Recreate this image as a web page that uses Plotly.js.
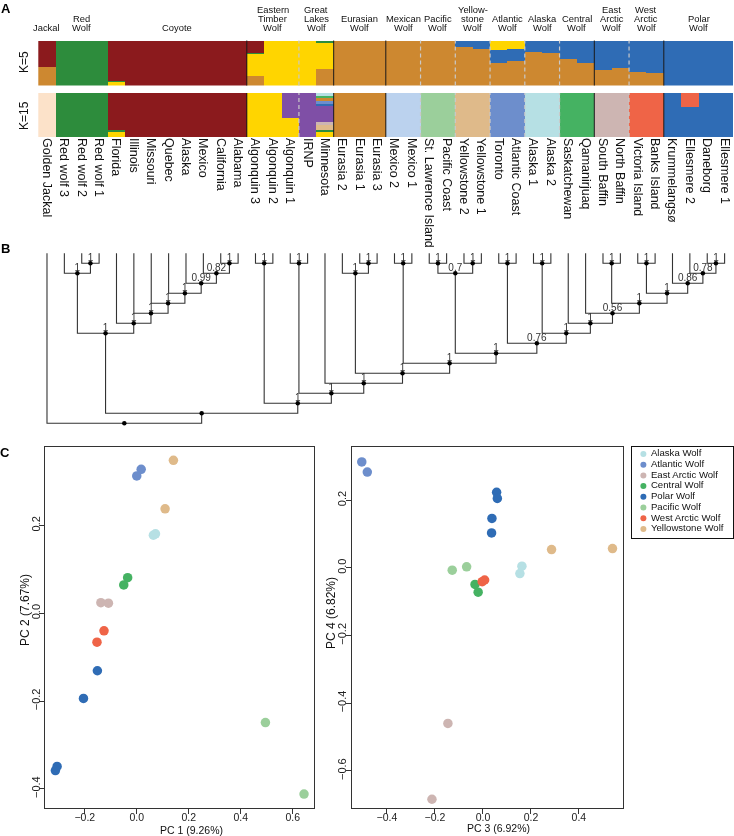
<!DOCTYPE html>
<html><head><meta charset="utf-8">
<script src="https://cdn.plot.ly/plotly-3.0.1.min.js"></script>
<style>html,body{margin:0;padding:0;background:#fff}#chart{width:734px;height:836px;will-change:transform}</style>
</head><body><div id="chart"></div>
<script>
// ================= DATA =================
const samples = ['Golden Jackal','Red wolf 3','Red wolf 2','Red wolf 1','Florida','Illinois','Missouri','Quebec','Alaska','Mexico','California','Alabama','Algonquin 3','Algonquin 2','Algonquin 1','IRNP','Minnesota','Eurasia 2','Eurasia 1','Eurasia 3','Mexico 2','Mexico 1','St. Lawrence Island','Pacific Coast','Yellowstone 2','Yellowstone 1','Toronto','Atlantic Coast','Alaska 1','Alaska 2','Saskatchewan','Qamanirjuaq','South Baffin','North Baffin','Victoria Island','Banks Island','Krummelangsø','Ellesmere 2','Daneborg','Ellesmere 1'];
const groups = ['Jackal','Red<br>Wolf','Coyote','Eastern<br>Timber<br>Wolf','Great<br>Lakes<br>Wolf','Eurasian<br>Wolf','Mexican<br>Wolf','Pacific<br>Wolf','Yellow-<br>stone<br>Wolf','Atlantic<br>Wolf','Alaska<br>Wolf','Central<br>Wolf','East<br>Arctic<br>Wolf','West<br>Arctic<br>Wolf','Polar<br>Wolf'];
const groupSizes = [1,3,8,3,2,3,2,2,2,2,2,2,2,2,4];

// K=5 ancestry proportions (one array per cluster, 40 samples)
const k5Ochre  = [0.42,0,0,0, 0,0,0,0,0,0,0,0, 0.22,0,0, 0,0.36, 1,1,1, 1,1, 1,1, 0.85,0.81, 0.51,0.54, 0.75,0.73, 0.58,0.50, 0.35,0.40, 0.31,0.27, 0,0,0,0];
const k5Blue   = [0,0,0,0, 0,0,0,0,0,0,0,0, 0,0,0, 0,0, 0,0,0, 0,0, 0,0, 0.15,0.19, 0.29,0.27, 0.25,0.27, 0.42,0.50, 0.65,0.60, 0.69,0.73, 1,1,1,1];
const k5Yellow = [0,0,0,0, 0.08,0,0,0,0,0,0,0, 0.48,1,1, 1,0.59, 0,0,0, 0,0, 0,0, 0,0, 0.20,0.19, 0,0, 0,0, 0,0, 0,0, 0,0,0,0];
const k5Green  = [0,1,1,1, 0.03,0,0,0,0,0,0,0, 0.03,0,0, 0,0.05, 0,0,0, 0,0, 0,0, 0,0, 0,0, 0,0, 0,0, 0,0, 0,0, 0,0,0,0];
const k5Red    = [0.58,0,0,0, 0.89,1,1,1,1,1,1,1, 0.27,0,0, 0,0, 0,0,0, 0,0, 0,0, 0,0, 0,0, 0,0, 0,0, 0,0, 0,0, 0,0,0,0];

// K=15 ancestry proportions
const k15Yellow   = [0,0,0,0, 0.11,0,0,0,0,0,0,0, 1,1,0.44, 0,0.12, 0,0,0, 0,0, 0,0, 0,0, 0,0, 0,0, 0,0, 0,0, 0,0, 0,0,0,0];
const k15RedWolf  = [0,1,1,1, 0.04,0,0,0,0,0,0,0, 0,0,0, 0,0.04, 0,0,0, 0,0, 0,0, 0,0, 0,0, 0,0, 0,0, 0,0, 0,0, 0,0,0,0];
const k15Coyote   = [0,0,0,0, 0.85,1,1,1,1,1,1,1, 0,0,0, 0,0, 0,0,0, 0,0, 0,0, 0,0, 0,0, 0,0, 0,0, 0,0, 0,0, 0,0,0,0];
const k15Jackal   = [1,0,0,0, 0,0,0,0,0,0,0,0, 0,0,0, 0,0, 0,0,0, 0,0, 0,0, 0,0, 0,0, 0,0, 0,0, 0,0, 0,0, 0,0,0,0];
const k15Tan      = [0,0,0,0, 0,0,0,0,0,0,0,0, 0,0,0, 0,0.12, 0,0,0, 0,0, 0,0, 1,1, 0,0, 0,0, 0,0, 0,0, 0,0, 0,0,0,0];
const k15Pink     = [0,0,0,0, 0,0,0,0,0,0,0,0, 0,0,0, 0,0.06, 0,0,0, 0,0, 0,0, 0,0, 0,0, 0,0, 0,0, 1,1, 0,0, 0,0,0,0];
const k15Purple   = [0,0,0,0, 0,0,0,0,0,0,0,0, 0,0,0.56, 1,0.36, 0,0,0, 0,0, 0,0, 0,0, 0,0, 0,0, 0,0, 0,0, 0,0, 0,0,0,0];
const k15Polar    = [0,0,0,0, 0,0,0,0,0,0,0,0, 0,0,0, 0,0.06, 0,0,0, 0,0, 0,0, 0,0, 0,0, 0,0, 0,0, 0,0, 0,0, 1,0.68,1,1];
const k15Coral    = [0,0,0,0, 0,0,0,0,0,0,0,0, 0,0,0, 0,0, 0,0,0, 0,0, 0,0, 0,0, 0,0, 0,0, 0,0, 0,0, 1,1, 0,0.32,0,0];
const k15Atlantic = [0,0,0,0, 0,0,0,0,0,0,0,0, 0,0,0, 0,0.06, 0,0,0, 0,0, 0,0, 0,0, 1,1, 0,0, 0,0, 0,0, 0,0, 0,0,0,0];
const k15Ochre    = [0,0,0,0, 0,0,0,0,0,0,0,0, 0,0,0, 0,0.06, 1,1,1, 0,0, 0,0, 0,0, 0,0, 0,0, 0,0, 0,0, 0,0, 0,0,0,0];
const k15Central  = [0,0,0,0, 0,0,0,0,0,0,0,0, 0,0,0, 0,0.05, 0,0,0, 0,0, 0,0, 0,0, 0,0, 0,0, 1,1, 0,0, 0,0, 0,0,0,0];
const k15Alaska   = [0,0,0,0, 0,0,0,0,0,0,0,0, 0,0,0, 0,0.07, 0,0,0, 0,0, 0,0, 0,0, 0,0, 1,1, 0,0, 0,0, 0,0, 0,0,0,0];
const k15Mexican  = [0,0,0,0, 0,0,0,0,0,0,0,0, 0,0,0, 0,0, 0,0,0, 1,1, 0,0, 0,0, 0,0, 0,0, 0,0, 0,0, 0,0, 0,0,0,0];
const k15Pacific  = [0,0,0,0, 0,0,0,0,0,0,0,0, 0,0,0, 0,0, 0,0,0, 0,0, 1,1, 0,0, 0,0, 0,0, 0,0, 0,0, 0,0, 0,0,0,0];

// Tree: internal nodes [name, childA, childB, support, level]
const treeNodes = [
  ['rw1','Red wolf 2','Red wolf 1',1,1],
  ['rw2','Red wolf 3','rw1',1,2],
  ['c1','California','Alabama',1,1],
  ['c2','Mexico','c1',0.82,2],
  ['c3','Alaska','c2',0.99,3],
  ['c4','Quebec','c3',1,4],
  ['c5','Missouri','c4',1,5],
  ['c6','Illinois','c5',1,6],
  ['c7','Florida','c6',1,7],
  ['rc','rw2','c7',1,8],
  ['e1','Algonquin 3','Algonquin 2',1,1],
  ['e2','Algonquin 1','IRNP',1,1],
  ['u1','Eurasia 1','Eurasia 3',1,1],
  ['u2','Eurasia 2','u1',1,2],
  ['m1','Mexico 2','Mexico 1',1,1],
  ['p1','St. Lawrence Island','Pacific Coast',1,1],
  ['y1','Yellowstone 2','Yellowstone 1',1,1],
  ['py','p1','y1',0.7,2],
  ['a1','Toronto','Atlantic Coast',1,1],
  ['k1','Alaska 1','Alaska 2',1,1],
  ['ea','South Baffin','North Baffin',1,1],
  ['wa','Victoria Island','Banks Island',1,1],
  ['d1','Daneborg','Ellesmere 1',1,1],
  ['d2','Ellesmere 2','d1',0.78,2],
  ['d3','Krummelangsø','d2',0.86,3],
  ['w4','wa','d3',1,4],
  ['w5','ea','w4',1,5],
  ['w6','Qamanirjuaq','w5',0.56,6],
  ['w7','Saskatchewan','w6',1,7],
  ['w8','k1','w7',1,8],
  ['w9','a1','w8',0.76,9],
  ['w10','py','w9',1,10],
  ['w11','m1','w10',1,11],
  ['w12','u2','w11',1,12],
  ['w13','Minnesota','w12',1,13],
  ['w14','e2','w13',1,14],
  ['w15','e1','w14',1,15],
  ['h','rc','w15',null,16],
  ['root','Golden Jackal','h',null,17]
];

// PCA
const pcaGroups = ['Alaska Wolf','Atlantic Wolf','East Arctic Wolf','Central Wolf','Polar Wolf','Pacific Wolf','West Arctic Wolf','Yellowstone Wolf'];
const pcaSampleGroup = ['Alaska Wolf','Alaska Wolf','Atlantic Wolf','Atlantic Wolf','East Arctic Wolf','East Arctic Wolf','Central Wolf','Central Wolf','Polar Wolf','Polar Wolf','Polar Wolf','Polar Wolf','Pacific Wolf','Pacific Wolf','West Arctic Wolf','West Arctic Wolf','Yellowstone Wolf','Yellowstone Wolf'];
const pc1 = [0.064,0.072, 0.017,0.000, -0.138,-0.109, -0.035,-0.050, -0.1515,-0.205,-0.3065,-0.313, 0.495,0.6435, -0.126,-0.153, 0.141,0.109];
const pc2 = [0.178,0.181, 0.328,0.313, 0.024,0.023, 0.081,0.0645, -0.131,-0.194,-0.349,-0.3585, -0.249,-0.412, -0.040,-0.066, 0.3485,0.238];
const pc3 = [0.1625,0.154, -0.505,-0.482, -0.146,-0.2125, -0.033,-0.020, 0.057,0.060,0.0375,0.036, -0.128,-0.068, 0.007,-0.003, 0.286,0.540];
const pc4 = [0.005,-0.017, 0.313,0.283, -0.460,-0.684, -0.049,-0.072, 0.223,0.205,0.146,0.103, -0.007,0.003, -0.036,-0.041, 0.054,0.057];

// ================= STYLE / LAYOUT =================
const W = 734, H = 836;
const fx = px => px / W;
const fy = py => 1 - py / H;
const FONT = "'Liberation Sans', Arial, Helvetica, sans-serif";

const C = {
  red:'#8B1A1D', rwgreen:'#2D8C3C', yellow:'#FFD500', ochre:'#CD8830', polar:'#2F6CB5',
  jackal:'#FCE2C9', tan:'#DFBA8A', pink:'#CDB5B2', purple:'#7F4FA6', coral:'#EF6447',
  atlantic:'#6D8ECC', central:'#45B262', alaska:'#B6E0E4', mexican:'#BBD2EE', pacific:'#9BCF9B'
};
const groupColor = {
  'Alaska Wolf':C.alaska, 'Atlantic Wolf':C.atlantic, 'East Arctic Wolf':C.pink, 'Central Wolf':C.central,
  'Polar Wolf':C.polar, 'Pacific Wolf':C.pacific, 'West Arctic Wolf':C.coral, 'Yellowstone Wolf':C.tan
};

const traces = [];
const bar = (y, color, ya) => ({type:'bar', x:samples, y:y, xaxis:'x', yaxis:ya, marker:{color:color, line:{width:0}}, hoverinfo:'skip', showlegend:false});
// K=5 stacked from bottom
[[k5Ochre,C.ochre],[k5Blue,C.polar],[k5Yellow,C.yellow],[k5Green,C.rwgreen],[k5Red,C.red]].forEach(([v,c]) => traces.push(bar(v,c,'y')));
// K=15 stacked from bottom
[[k15Yellow,C.yellow],[k15RedWolf,C.rwgreen],[k15Coyote,C.red],[k15Jackal,C.jackal],[k15Tan,C.tan],[k15Pink,C.pink],
 [k15Purple,C.purple],[k15Polar,C.polar],[k15Coral,C.coral],[k15Atlantic,C.atlantic],[k15Ochre,C.ochre],
 [k15Central,C.central],[k15Alaska,C.alaska],[k15Mexican,C.mexican],[k15Pacific,C.pacific]].forEach(([v,c]) => traces.push(bar(v,c,'y2')));

// ---- tree ----
const nodeX = {}, nodeL = {};
samples.forEach((s,i) => { nodeX[s] = i; nodeL[s] = 0; });
const lx = [], ly = [], dx = [], dy = [], tx = [], ty = [], tt = [];
treeNodes.forEach(([n,a,b,sup,lev]) => {
  nodeX[n] = (nodeX[a] + nodeX[b]) / 2; nodeL[n] = lev;
  lx.push(nodeX[a], nodeX[a], nodeX[b], nodeX[b], null);
  ly.push(nodeL[a], lev, lev, nodeL[b], null);
  dx.push(nodeX[n]); dy.push(lev);
  if (sup !== null) { tx.push(nodeX[n]); ty.push(lev); tt.push(String(sup)); }
});
traces.push({type:'scatter', mode:'lines', x:lx, y:ly, xaxis:'x3', yaxis:'y3', line:{color:'#333', width:1.1}, hoverinfo:'skip', showlegend:false});
traces.push({type:'scatter', mode:'markers', x:dx, y:dy, xaxis:'x3', yaxis:'y3', marker:{color:'#000', size:4.5}, hoverinfo:'skip', showlegend:false});
traces.push({type:'scatter', mode:'text', x:tx, y:ty, text:tt, textposition:'top center', xaxis:'x3', yaxis:'y3', textfont:{family:FONT, size:10, color:'#333'}, hoverinfo:'skip', showlegend:false});

// ---- PCA ----
const ptColors = pcaSampleGroup.map(g => groupColor[g]);
traces.push({type:'scatter', mode:'markers', x:pc1, y:pc2, xaxis:'x4', yaxis:'y4', marker:{color:ptColors, size:9.5, line:{width:0}}, hoverinfo:'skip', showlegend:false});
traces.push({type:'scatter', mode:'markers', x:pc3, y:pc4, xaxis:'x5', yaxis:'y5', marker:{color:ptColors, size:9.5, line:{width:0}}, hoverinfo:'skip', showlegend:false});
// legend box
const legIdx = pcaGroups.map((g,i) => i);
traces.push({type:'scatter', mode:'markers', x:pcaGroups.map(()=>0.11), y:legIdx, xaxis:'x6', yaxis:'y6', marker:{color:pcaGroups.map(g=>groupColor[g]), size:6}, hoverinfo:'skip', showlegend:false});
traces.push({type:'scatter', mode:'text', x:pcaGroups.map(()=>0.185), y:legIdx, text:pcaGroups, textposition:'middle right', xaxis:'x6', yaxis:'y6', textfont:{family:FONT, size:9.6, color:'#111'}, hoverinfo:'skip', showlegend:false});

// ---- annotations ----
const ann = [];
const note = (o) => ann.push(Object.assign({xref:'paper', yref:'paper', showarrow:false, xanchor:'center', yanchor:'middle', borderpad:0}, o));
const panel = (t, x, y) => note({text:'<b>'+t+'</b>', x:fx(x), y:fy(y), font:{family:FONT, size:13, color:'#000'}});
panel('A', 5.5, 8); panel('B', 5, 248); panel('C', 5, 452);
note({text:'K=5', x:fx(24), y:fy(62), textangle:-90, font:{family:FONT, size:12, color:'#111'}});
note({text:'K=15', x:fx(24), y:fy(115), textangle:-90, font:{family:FONT, size:12, color:'#111'}});
let start = 0;
const shapes = [];
const solidAfter = new Set([2,4,5,11,13]);
const dashedAfter = new Set([3,6,7,8,9,10,12]);
groups.forEach((g, gi) => {
  const center = start + (groupSizes[gi]-1)/2;
  const lines = g.split('<br>');
  lines.forEach((ln, j) => {
    note({text:ln, x:center, xref:'x', y:fy(27.5 - (lines.length-1-j)*8.8), font:{family:FONT, size:9.4, color:'#111'}});
  });
  start += groupSizes[gi];
  const b = start - 0.5;
  if (solidAfter.has(gi) || dashedAfter.has(gi)) {
    const ln = solidAfter.has(gi) ? {color:'#1a1a1a', width:1} : {color:'#c9c9c9', width:1.2, dash:'4px,3px'};
    ['y domain','y2 domain'].forEach(yr => shapes.push({type:'line', xref:'x', yref:yr, x0:b, x1:b, y0:0, y1:1, line:ln, layer:'above'}));
  }
});
note({text:'PC 1 (9.26%)', x:fx(191), y:fy(830), font:{family:FONT, size:10.5, color:'#111'}});
note({text:'PC 2 (7.67%)', x:fx(25), y:fy(610), textangle:-90, font:{family:FONT, size:12, color:'#111'}});
note({text:'PC 3 (6.92%)', x:fx(498), y:fy(828), font:{family:FONT, size:10.5, color:'#111'}});
note({text:'PC 4 (6.82%)', x:fx(331), y:fy(613), textangle:-90, font:{family:FONT, size:12, color:'#111'}});

const hidden = {visible:false, fixedrange:true};
const boxAxis = (extra) => Object.assign({showline:true, mirror:true, linecolor:'#333', linewidth:1, ticks:'outside', ticklen:5, tickcolor:'#333',
  showgrid:false, zeroline:false, dtick:0.2, tick0:0, tickformat:'.1f', ticklabelstandoff:-5, fixedrange:true}, extra);
const xTickFont = {family:FONT, size:10.5, color:'#222'};
const yTickFont = {family:FONT, size:11, color:'#222'};

const layout = {
  width:W, height:H, margin:{l:0,r:0,t:0,b:0}, paper_bgcolor:'#fff', plot_bgcolor:'rgba(0,0,0,0)',
  barmode:'stack', bargap:0, showlegend:false,
  xaxis:{domain:[fx(38.3), fx(733.3)], anchor:'y2', type:'category', range:[-0.5,39.5], tickangle:90, ticks:'',
    tickfont:{family:FONT, size:12.5, color:'#111'}, showline:false, showgrid:false, zeroline:false, fixedrange:true},
  yaxis:Object.assign({domain:[fy(85.5), fy(40.5)], range:[0,1], anchor:'x'}, hidden),
  yaxis2:Object.assign({domain:[fy(137), fy(93)], range:[0,1], anchor:'x'}, hidden),
  xaxis3:Object.assign({domain:[fx(38.3), fx(733.3)], range:[-0.5,39.5], anchor:'y3'}, hidden),
  yaxis3:Object.assign({domain:[fy(430), fy(250)], range:[(430-253.3)/10, (250-253.3)/10], anchor:'x3'}, hidden),
  xaxis4:boxAxis({domain:[fx(45), fx(314.3)], range:[-0.353,0.683], anchor:'y4', tickfont:xTickFont}),
  yaxis4:boxAxis({domain:[fy(807.7), fy(446.7)], range:[-0.443,0.3795], anchor:'x4', tickangle:-90, tickfont:yTickFont}),
  xaxis5:boxAxis({domain:[fx(351.7), fx(623.3)], range:[-0.547,0.585], anchor:'y5', tickfont:xTickFont}),
  yaxis5:boxAxis({domain:[fy(807.7), fy(446.7)], range:[-0.709,0.358], anchor:'x5', tickangle:-90, tickfont:yTickFont}),
  xaxis6:{domain:[fx(632.3), fx(733)], range:[0,1], anchor:'y6', showline:true, mirror:true, linecolor:'#111', linewidth:1,
    showticklabels:false, ticks:'', showgrid:false, zeroline:false, fixedrange:true},
  yaxis6:{domain:[fy(537.7), fy(446.7)], range:[7.82,-0.68], anchor:'x6', showline:true, mirror:true, linecolor:'#111', linewidth:1,
    showticklabels:false, ticks:'', showgrid:false, zeroline:false, fixedrange:true},
  annotations:ann, shapes:shapes
};
Plotly.newPlot('chart', traces, layout, {staticPlot:true, displayModeBar:false});
</script></body></html>
